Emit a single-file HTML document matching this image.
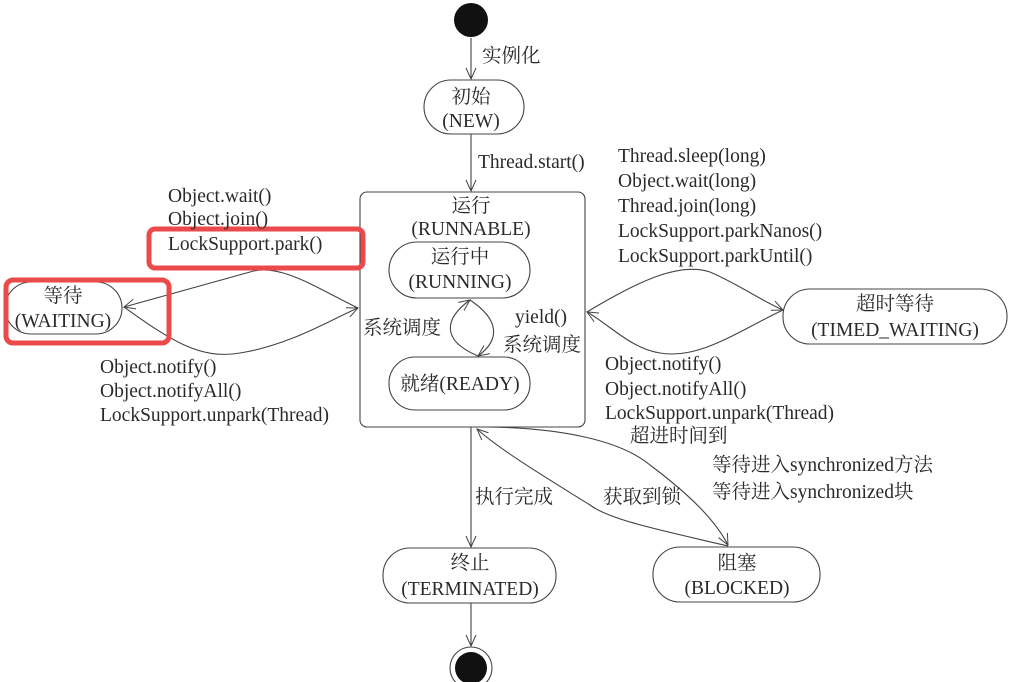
<!DOCTYPE html>
<html><head><meta charset="utf-8"><style>
html,body{margin:0;padding:0;background:#fff;}
svg{display:block;}
text{font-family:"Liberation Serif","Noto Serif CJK SC",serif;font-size:19.5px;fill:#2a2a2a;}
</style></head><body>
<svg width="1018" height="682" viewBox="0 0 1018 682" xmlns="http://www.w3.org/2000/svg">
<defs>
<marker id="a" markerWidth="14" markerHeight="14" refX="12" refY="7" orient="auto" markerUnits="userSpaceOnUse">
<path d="M1,2 L12,7 L1,12" fill="none" stroke="#444" stroke-width="1"/>
</marker>
</defs>
<g fill="none" stroke="#444" stroke-width="1.1">
<circle cx="471" cy="20" r="17" fill="#111" stroke="none"/>
<line x1="471" y1="38" x2="471" y2="79" marker-end="url(#a)"/>
<rect x="424" y="80" width="100" height="54" rx="27"/>
<line x1="471" y1="134" x2="471" y2="191" marker-end="url(#a)"/>
<rect x="360" y="192" width="225" height="235" rx="7"/>
<rect x="389" y="242" width="141" height="56" rx="28"/>
<rect x="389" y="357" width="141" height="53" rx="26"/>
<path d="M478,356 C440,340 445,318 470,300" marker-end="url(#a)"/>
<path d="M470,300 C500,320 500,340 478,356" marker-end="url(#a)"/>
<rect x="5" y="282" width="117" height="52" rx="26"/>
<path d="M358,308 C320,290 280,262 250,272 L124,307" marker-end="url(#a)"/>
<path d="M124,307 C170,340 200,360 240,353 C290,345 330,320 358,308" marker-end="url(#a)"/>
<rect x="783" y="289" width="224" height="55" rx="27"/>
<path d="M587,312 C640,280 680,262 710,272 C740,285 760,300 783,310" marker-end="url(#a)"/>
<path d="M783,310 C740,330 700,360 660,353 C630,348 610,325 587,312" marker-end="url(#a)"/>
<line x1="471" y1="427" x2="471" y2="547" marker-end="url(#a)"/>
<rect x="383" y="548" width="173" height="55" rx="27"/>
<line x1="471" y1="603" x2="471" y2="646" marker-end="url(#a)"/>
<circle cx="471" cy="668" r="21"/>
<circle cx="471" cy="668" r="16" fill="#111" stroke="none"/>
<rect x="653" y="547" width="167" height="55" rx="27"/>
<path d="M728,546 C660,530 610,520 590,505 C550,480 500,450 477,429" marker-end="url(#a)"/>
<path d="M488,427 C560,428 620,440 650,465 C690,495 715,520 728,545" marker-end="url(#a)"/>
</g>
<rect x="149" y="229" width="214" height="39" rx="6" fill="none" stroke="#ea4a4a" stroke-width="5"/>
<rect x="6" y="280" width="163" height="63" rx="7" fill="none" stroke="#ea4a4a" stroke-width="5"/>
<text x="482" y="62">实例化</text>
<text x="471" y="103" text-anchor="middle">初始</text>
<text x="471" y="127" text-anchor="middle">(NEW)</text>
<text x="478" y="168">Thread.start()</text>
<text x="471" y="212" text-anchor="middle">运行</text>
<text x="471" y="235" text-anchor="middle">(RUNNABLE)</text>
<text x="460" y="263" text-anchor="middle">运行中</text>
<text x="460" y="288" text-anchor="middle">(RUNNING)</text>
<text x="460" y="390" text-anchor="middle">就绪(READY)</text>
<text x="363" y="334">系统调度</text>
<text x="515" y="323">yield()</text>
<text x="503" y="351">系统调度</text>
<text x="63" y="302" text-anchor="middle">等待</text>
<text x="63" y="327" text-anchor="middle">(WAITING)</text>
<text x="168" y="202">Object.wait()</text>
<text x="168" y="225">Object.join()</text>
<text x="168" y="250">LockSupport.park()</text>
<text x="100" y="373">Object.notify()</text>
<text x="100" y="397">Object.notifyAll()</text>
<text x="100" y="421">LockSupport.unpark(Thread)</text>
<text x="618" y="162">Thread.sleep(long)</text>
<text x="618" y="187">Object.wait(long)</text>
<text x="618" y="212">Thread.join(long)</text>
<text x="618" y="237">LockSupport.parkNanos()</text>
<text x="618" y="262">LockSupport.parkUntil()</text>
<text x="895" y="310" text-anchor="middle">超时等待</text>
<text x="895" y="336" text-anchor="middle">(TIMED_WAITING)</text>
<text x="605" y="370">Object.notify()</text>
<text x="605" y="395">Object.notifyAll()</text>
<text x="605" y="419">LockSupport.unpark(Thread)</text>
<text x="630" y="442">超进时间到</text>
<text x="712" y="471">等待进入synchronized方法</text>
<text x="712" y="498">等待进入synchronized块</text>
<text x="475" y="503">执行完成</text>
<text x="603" y="503">获取到锁</text>
<text x="470" y="569" text-anchor="middle">终止</text>
<text x="470" y="595" text-anchor="middle">(TERMINATED)</text>
<text x="737" y="569" text-anchor="middle">阻塞</text>
<text x="737" y="594" text-anchor="middle">(BLOCKED)</text>
</svg>
</body></html>
